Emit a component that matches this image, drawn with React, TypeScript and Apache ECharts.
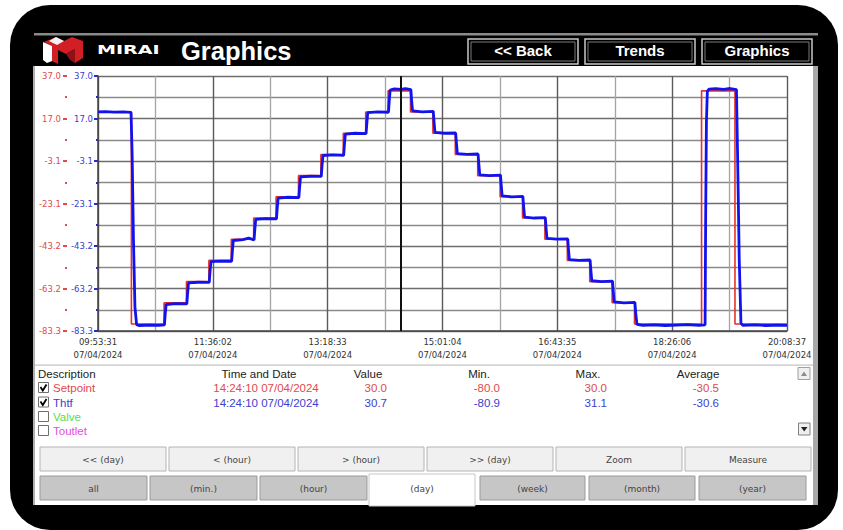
import React, { useEffect, useRef } from 'react';
import * as echarts from 'echarts';

// ---------- data ----------
const START_TIME = '09:53:31';
const DATE_LABEL = '07/04/2024';
const X_STEP_SECONDS = 6151;
const xTickTimes = ['09:53:31', '11:36:02', '13:18:33', '15:01:04', '16:43:35', '18:26:06', '20:08:37'];
const Y_AXIS_MIN = -83.3;
const Y_AXIS_MAX = 37.0;
const yTickLabels = ['-83.3', '-63.2', '-43.2', '-23.1', '-3.1', '17.0', '37.0'];
const CURSOR_TIME = '14:24:10';

const setpointTimes = [
  '09:53:31', '10:23:20', '10:52:30', '11:12:30', '11:32:30', '11:52:30', '12:12:30', '12:32:30',
  '12:52:30', '13:12:30', '13:32:30', '13:52:30', '14:12:30', '14:32:30', '14:52:30', '15:12:30',
  '15:32:30', '15:52:30', '16:12:30', '16:32:30', '16:52:30', '17:12:30', '17:32:30', '17:52:30',
  '18:52:20', '19:22:10', '20:08:37',
];
const setpointValues = [
  20, -80, -70, -60, -50, -40, -30, -20,
  -10, 0, 10, 20, 30, 20, 10, 0,
  -10, -20, -30, -40, -50, -60, -70, -80,
  30, -80, -80,
];

const thtfTimes = [
  '09:53:35', '10:00:00', '10:08:00', '10:16:00', '10:23:00', '10:24:00', '10:25:10', '10:26:30', '10:28:00', '10:30:00',
  '10:40:00', '10:48:00', '10:52:50', '10:53:30', '10:54:20', '11:03:00', '11:12:50', '11:13:30', '11:14:20', '11:23:00',
  '11:32:50', '11:33:30', '11:34:20', '11:43:00', '11:52:50', '11:53:30', '11:54:20', '12:03:00', '12:08:00', '12:12:50',
  '12:13:30', '12:14:20', '12:23:00', '12:32:50', '12:33:30', '12:34:20', '12:43:00', '12:52:50', '12:53:30', '12:54:20',
  '13:03:00', '13:12:50', '13:13:30', '13:14:20', '13:23:00', '13:32:50', '13:33:30', '13:34:20', '13:43:00', '13:52:50',
  '13:53:30', '13:54:20', '14:03:00', '14:12:50', '14:13:30', '14:14:20', '14:18:00', '14:24:10', '14:28:00', '14:32:50',
  '14:33:30', '14:34:20', '14:43:00', '14:52:50', '14:53:30', '14:54:20', '15:03:00', '15:12:50', '15:13:30', '15:14:20',
  '15:23:00', '15:32:50', '15:33:30', '15:34:20', '15:43:00', '15:52:50', '15:53:30', '15:54:20', '16:03:00', '16:12:50',
  '16:13:30', '16:14:20', '16:23:00', '16:32:50', '16:33:30', '16:34:20', '16:43:00', '16:52:50', '16:53:30', '16:54:20',
  '17:03:00', '17:12:50', '17:13:30', '17:14:20', '17:23:00', '17:32:50', '17:33:30', '17:34:20', '17:43:00', '17:52:50',
  '17:53:30', '17:54:40', '18:00:00', '18:10:00', '18:20:00', '18:30:00', '18:40:00', '18:50:00', '18:55:30', '18:56:00',
  '18:56:40', '18:57:30', '18:59:00', '19:05:00', '19:12:00', '19:18:00', '19:23:30', '19:24:30', '19:26:00', '19:27:30',
  '19:29:00', '19:40:00', '19:50:00', '20:00:00', '20:08:37',
];
const thtfValues = [
  20.1, 20.2, 20.0, 20.1, 19.8, 0.0, -40.0, -72.0, -80.3, -80.7,
  -80.5, -80.6, -80.4, -75.5, -70.8, -70.4, -70.5, -65.5, -60.6, -60.3,
  -60.4, -55.5, -50.6, -50.3, -50.4, -45.5, -40.6, -40.2, -39.5, -40.3,
  -35.5, -30.6, -30.3, -30.4, -25.5, -20.6, -20.2, -20.4, -15.5, -10.6,
  -10.3, -10.4, -5.5, -0.5, -0.2, -0.4, 4.5, 9.6, 10.0, 9.8,
  14.5, 19.7, 20.1, 19.9, 25.0, 30.4, 30.9, 30.7, 31.1, 30.6,
  25.5, 20.5, 20.1, 20.3, 15.5, 10.4, 10.0, 10.1, 5.5, 0.4,
  0.0, 0.2, -4.5, -9.6, -10.0, -9.8, -14.5, -19.6, -20.0, -19.8,
  -24.5, -29.6, -30.0, -29.8, -34.5, -39.6, -40.0, -39.8, -44.5, -49.6,
  -50.0, -49.8, -54.5, -59.6, -60.0, -59.8, -64.5, -69.6, -70.0, -69.8,
  -74.5, -80.2, -80.6, -80.4, -80.7, -80.5, -80.3, -80.6, -80.4, -30.0,
  15.0, 29.8, 30.8, 31.0, 30.7, 31.1, 30.6, 0.0, -50.0, -79.5,
  -80.6, -80.4, -80.7, -80.5, -80.6,
];

const tableHeaders = ['Description', 'Time and Date', 'Value', 'Min.', 'Max.', 'Average'];
const channelNames = ['Setpoint', 'Thtf', 'Valve', 'Toutlet'];
const channelChecked = [true, true, false, false];
const channelReadTimes = ['14:24:10 07/04/2024', '14:24:10 07/04/2024'];
const channelValues = ['30.0', '30.7'];
const channelMins = ['-80.0', '-80.9'];
const channelMaxs = ['30.0', '31.1'];
const channelAverages = ['-30.5', '-30.6'];
const headerButtons = ['<< Back', 'Trends', 'Graphics'];
const navButtons = ['<< (day)', '< (hour)', '> (hour)', '>> (day)', 'Zoom', 'Measure'];
const rangeButtons = ['all', '(min.)', '(hour)', '(day)', '(week)', '(month)', '(year)'];
const SELECTED_RANGE = '(day)';

// ---------- helpers ----------
const hms = (s: string) => {
  const p = s.split(':').map(Number);
  return p[0] * 3600 + p[1] * 60 + (p[2] || 0);
};
const toSec = (s: string) => hms(s) - hms(START_TIME);
const Y_SPAN = Y_AXIS_MAX - Y_AXIS_MIN;
const Y_STEP = Y_SPAN / 6;

const RED = '#e2322c';
const BLUE = '#1212ee';
const RED_TXT = '#e04a4a';
const BLUE_TXT = '#3d3dcf';
const chColors = [RED_TXT, BLUE_TXT, '#4ee04e', '#e04ee0'];

function buildGraphics() {
  const els: any[] = [];
  const rect = (x: number, y: number, w: number, h: number, fill: string, stroke?: string, lw?: number, r?: number, z = -10) =>
    els.push({ type: 'rect', z, silent: true, shape: { x, y, width: w, height: h, r: r || 0 }, style: { fill, stroke: stroke || 'none', lineWidth: lw || 0 } });
  const text = (x: number, y: number, t: string, font: string, fill: string, align = 'left', extra: any = {}) =>
    els.push({ type: 'text', z: 20, silent: true, x, y, ...extra, style: { text: t, font, fill, textAlign: align, textVerticalAlign: 'middle' } });
  const poly = (points: number[][], fill: string, z = 15) =>
    els.push({ type: 'polygon', z, silent: true, shape: { points }, style: { fill } });

  // device frame
  rect(10, 5, 828, 525, '#000', undefined, 0, 40, -30);
  rect(34, 33, 784, 2.5, '#8a8a8a', undefined, 0, 0, -20);
  // white screen
  rect(34, 66, 782, 439, '#ffffff', undefined, 0, 0, -20);
  rect(33, 66, 2, 439, '#b0b0b0', undefined, 0, 0, -19);
  rect(813, 66, 5, 439, '#a8a8a8', undefined, 0, 0, -19);

  // logo
  poly([[44, 42], [56, 37], [64, 41], [72, 37], [83, 41], [83, 58], [75, 63], [75, 49], [66, 54], [58, 50], [58, 64], [52, 61], [52, 46]], '#d21f26');
  poly([[43, 42], [52, 46], [52, 61], [47, 63], [43, 60]], '#ffffff', 16);
  poly([[56, 37], [64, 41], [57, 45], [49, 41]], '#f2f2f2', 16);
  poly([[66, 54], [75, 49], [75, 63], [70, 60]], '#8e1116', 16);
  text(97, 50, 'MIRAI', 'bold 13px "DejaVu Sans"', '#ffffff', 'left', { scaleX: 1.47 });
  text(181, 51, 'Graphics', 'bold 25.5px "Liberation Sans"', '#ffffff');

  // header buttons
  const hbX = [468, 585, 702];
  headerButtons.forEach((b, i) => {
    const x = hbX[i];
    rect(x, 39, 110, 25, '#000', '#c8c8c8', 1.5, 0, 10);
    rect(x + 3, 42, 104, 19, '#000', '#7a7a7a', 1, 0, 11);
    text(x + 55, 50.5, b, 'bold 15px "Liberation Sans"', '#ffffff', 'center');
  });

  // separator under axis labels
  rect(35, 364.5, 778, 1.2, '#c4c4c4', undefined, 0, 0, -5);

  // table header
  const f = '11.5px "Liberation Sans"';
  text(38, 374, tableHeaders[0], f, '#222');
  text(259, 374, tableHeaders[1], f, '#222', 'center');
  text(368, 374, tableHeaders[2], f, '#222', 'center');
  text(479, 374, tableHeaders[3], f, '#222', 'center');
  text(588, 374, tableHeaders[4], f, '#222', 'center');
  text(698, 374, tableHeaders[5], f, '#222', 'center');

  const rowY = [388, 402.5, 417, 431];
  channelNames.forEach((n, i) => {
    const y = rowY[i];
    rect(38.5, y - 5.5, 10, 10, '#ffffff', '#707070', 1, 0, 12);
    if (channelChecked[i]) {
      els.push({ type: 'polyline', z: 13, silent: true, shape: { points: [[40.5, y - 1], [42.8, y + 2.5], [46.5, y - 3.5]] }, style: { stroke: '#000', lineWidth: 1.8, fill: 'none' } });
    }
    text(53, y, n, f, chColors[i]);
    if (i < 2) {
      text(266, y, channelReadTimes[i], f, chColors[i], 'center');
      text(387, y, channelValues[i], f, chColors[i], 'right');
      text(500, y, channelMins[i], f, chColors[i], 'right');
      text(607, y, channelMaxs[i], f, chColors[i], 'right');
      text(719, y, channelAverages[i], f, chColors[i], 'right');
    }
  });

  // scroll arrows
  rect(798, 367.5, 12, 12, '#efefef', '#a0a0a0', 1, 0, 12);
  poly([[801, 376], [807, 376], [804, 371.5]], '#8a8a8a');
  rect(798.5, 423, 11.5, 12, '#efefef', '#808080', 1, 0, 12);
  poly([[801, 427], [807.5, 427], [804.2, 431.5]], '#222');

  // nav buttons row
  const nbX = [40, 169, 298, 427, 556, 685];
  navButtons.forEach((b, i) => {
    rect(nbX[i], 447, 126, 24, '#f0f0f0', '#b4b4b4', 1, 0, 10);
    text(nbX[i] + 63, 459.5, b, '9px "DejaVu Sans"', '#444', 'center');
  });

  // range buttons row
  const rbX = [40, 150, 260, 369, 480, 589, 699];
  const rbW = [107, 107, 107, 106, 105, 106, 107];
  rangeButtons.forEach((b, i) => {
    const sel = b === SELECTED_RANGE;
    if (sel) {
      rect(rbX[i], 474, rbW[i], 32, '#ffffff', '#c8c8c8', 1, 0, 10);
    } else {
      rect(rbX[i], 476, rbW[i], 24, '#c6c6c6', '#9a9a9a', 1, 0, 10);
    }
    text(rbX[i] + rbW[i] / 2, 488.5, b, '9px "DejaVu Sans"', '#444', 'center');
  });

  return els;
}

function buildOption() {
  const spData = setpointTimes.map((t, i) => [toSec(t), setpointValues[i] - Y_AXIS_MIN]);
  const thData = thtfTimes.map((t, i) => [toSec(t), thtfValues[i] - Y_AXIS_MIN]);
  const yLabel = (v: number) => yTickLabels[Math.round(v / Y_STEP)] ?? '';

  return {
    animation: false,
    backgroundColor: '#ffffff',
    textStyle: { fontFamily: '"DejaVu Sans"' },
    grid: { left: 98, top: 76, right: 56, bottom: 199, containLabel: false },
    xAxis: {
      type: 'value',
      min: 0,
      max: X_STEP_SECONDS * 6,
      interval: X_STEP_SECONDS,
      axisLine: { show: true, lineStyle: { color: '#444', width: 1.5 } },
      axisTick: { show: false },
      minorTick: { show: false, splitNumber: 2 },
      splitLine: { show: true, lineStyle: { color: '#5a5a5a', width: 1.4 } },
      minorSplitLine: { show: true, lineStyle: { color: '#a4a4a4', width: 1.3 } },
      axisLabel: {
        show: true,
        showMinLabel: true,
        showMaxLabel: true,
        fontSize: 8.5,
        color: '#333',
        lineHeight: 13,
        margin: 4,
        formatter: (v: number) => `${xTickTimes[Math.round(v / X_STEP_SECONDS)] ?? ''}\n${DATE_LABEL}`,
      },
    },
    yAxis: [
      {
        type: 'value',
        position: 'left',
        min: 0,
        max: Y_SPAN,
        interval: Y_STEP,
        axisLine: { show: true, lineStyle: { color: '#444', width: 1.5 } },
        axisTick: { show: true, length: 4, lineStyle: { color: '#2a2ad0', width: 2 } },
        minorTick: { show: true, splitNumber: 2, length: 2, lineStyle: { color: '#2a2ad0', width: 2 } },
        splitLine: { show: true, lineStyle: { color: '#6e6e6e', width: 1.4 } },
        minorSplitLine: { show: true, lineStyle: { color: '#8a8a8a', width: 1.3 } },
        axisLabel: { formatter: yLabel, color: BLUE_TXT, fontSize: 8.5, margin: 5, showMinLabel: true, showMaxLabel: true },
      },
      {
        type: 'value',
        position: 'left',
        offset: 31,
        min: 0,
        max: Y_SPAN,
        interval: Y_STEP,
        axisLine: { show: false },
        axisTick: { show: true, length: 4, lineStyle: { color: RED_TXT, width: 2 } },
        minorTick: { show: true, splitNumber: 2, length: 2, lineStyle: { color: RED_TXT, width: 2 } },
        splitLine: { show: false },
        minorSplitLine: { show: false },
        axisLabel: { formatter: yLabel, color: RED_TXT, fontSize: 8.5, margin: 6, showMinLabel: true, showMaxLabel: true },
      },
    ],
    series: [
      {
        type: 'line',
        name: 'Setpoint',
        data: spData,
        step: 'end',
        showSymbol: false,
        lineStyle: { color: RED, width: 1.6 },
        z: 3,
      },
      {
        type: 'line',
        name: 'Thtf',
        data: thData,
        showSymbol: false,
        lineStyle: { color: BLUE, width: 2.8 },
        z: 4,
        markLine: {
          silent: true,
          symbol: ['none', 'none'],
          label: { show: false },
          lineStyle: { color: '#111', width: 2, type: 'solid' },
          data: [{ xAxis: toSec(CURSOR_TIME) }],
        },
      },
    ],
    graphic: { elements: buildGraphics() },
  };
}

export default function App() {
  const ref = useRef<HTMLDivElement>(null);
  useEffect(() => {
    if (!ref.current) return;
    const chart = echarts.init(ref.current, null, { renderer: 'svg' });
    chart.setOption(buildOption() as any);
    return () => chart.dispose();
  }, []);
  return (
    <div
      ref={ref}
      style={{ position: 'fixed', left: 0, top: 0, width: 843, height: 530, background: '#fff' }}
    />
  );
}
